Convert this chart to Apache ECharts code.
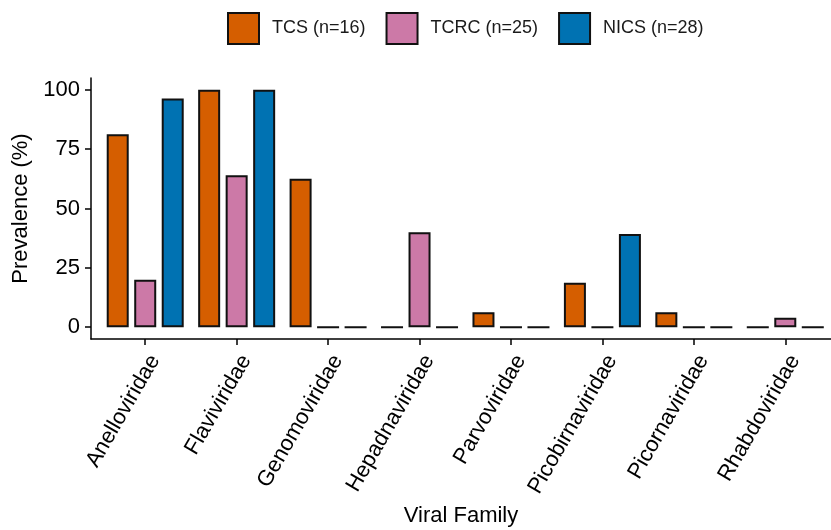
<!DOCTYPE html>
<html>
<head>
<meta charset="utf-8">
<script src="https://cdn.jsdelivr.net/npm/echarts@6/dist/echarts.min.js"></script>
<style>
html,body{margin:0;padding:0;background:#fff;}
#chart{width:831px;height:530px;}
</style>
</head>
<body>
<div id="chart"></div>
<script>
const categories = ['Anelloviridae','Flaviviridae','Genomoviridae','Hepadnaviridae','Parvoviridae','Picobirnaviridae','Picornaviridae','Rhabdoviridae'];
const seriesNames = ['TCS (n=16)','TCRC (n=25)','NICS (n=28)'];
const tcs  = [81.25, 100, 62.5, 0, 6.25, 18.75, 6.25, 0];
const tcrc = [20, 64, 0, 40, 0, 0, 0, 4];
const nics = [96.4, 100, 0, 0, 0, 39.3, 0, 0];
const yTicks = [0, 25, 50, 75, 100];
const colors = ['#D55E00', '#CC79A7', '#0072B2'];

const FONT = '"Liberation Sans", Arial, Helvetica, sans-serif';
const chart = echarts.init(document.getElementById('chart'), null, {renderer: 'canvas'});
const seriesData = [tcs, tcrc, nics];

const option = {
  animation: false,
  backgroundColor: '#ffffff',
  textStyle: {fontFamily: FONT, color: '#000'},
  legend: {
    left: 222, top: 7,
    itemWidth: 31, itemHeight: 31, itemGap: 20,
    icon: 'rect',
    textStyle: {fontFamily: FONT, fontSize: 18, color: '#1a1a1a', padding: [0, 0, 0, 8]},
    data: seriesNames
  },
  grid: [
    {left: 99.5, right: 0, top: 78, bottom: 191},
    {left: 91, right: -9, top: 78, bottom: 191}
  ],
  xAxis: [
    {
      type: 'category', gridIndex: 0, data: categories,
      axisLine: {show: false, onZero: false},
      axisTick: {show: true, alignWithLabel: true, length: 6, lineStyle: {color: '#000', width: 1.5}},
      axisLabel: {rotate: 60, margin: 12, fontSize: 22, fontFamily: FONT, color: '#000', verticalAlign: 'top', align: 'right', interval: 0}
    },
    {
      type: 'value', gridIndex: 1, min: 0, max: 1,
      axisLine: {show: true, onZero: false, lineStyle: {color: '#000', width: 1.5}},
      axisTick: {show: false}, axisLabel: {show: false}, splitLine: {show: false},
      name: 'Viral Family', nameLocation: 'middle', nameGap: 166,
      nameTextStyle: {fontSize: 22, fontFamily: FONT, color: '#000'}
    }
  ],
  yAxis: [
    {
      type: 'value', gridIndex: 0, min: -5, max: 105,
      axisLine: {show: false, onZero: false}, axisTick: {show: false}, axisLabel: {show: false}, splitLine: {show: false}
    },
    {
      type: 'value', gridIndex: 1, min: -5, max: 105,
      axisLine: {show: true, onZero: false, lineStyle: {color: '#000', width: 1.5}},
      axisTick: {show: true, length: 6, customValues: yTicks, lineStyle: {color: '#000', width: 1.5}},
      axisLabel: {customValues: yTicks, margin: 11, fontSize: 22, fontFamily: FONT, color: '#000'},
      splitLine: {show: false},
      name: 'Prevalence (%)', nameLocation: 'middle', nameGap: 56,
      nameTextStyle: {fontSize: 22, fontFamily: FONT, color: '#000'}
    }
  ],
  series: seriesNames.map((name, i) => ({
    name: name, type: 'bar', xAxisIndex: 0, yAxisIndex: 0,
    data: seriesData[i],
    barWidth: 22, barGap: '25%',
    itemStyle: {color: colors[i], borderColor: '#111', borderWidth: 2}
  }))
};
chart.setOption(option);
</script>
</body>
</html>
